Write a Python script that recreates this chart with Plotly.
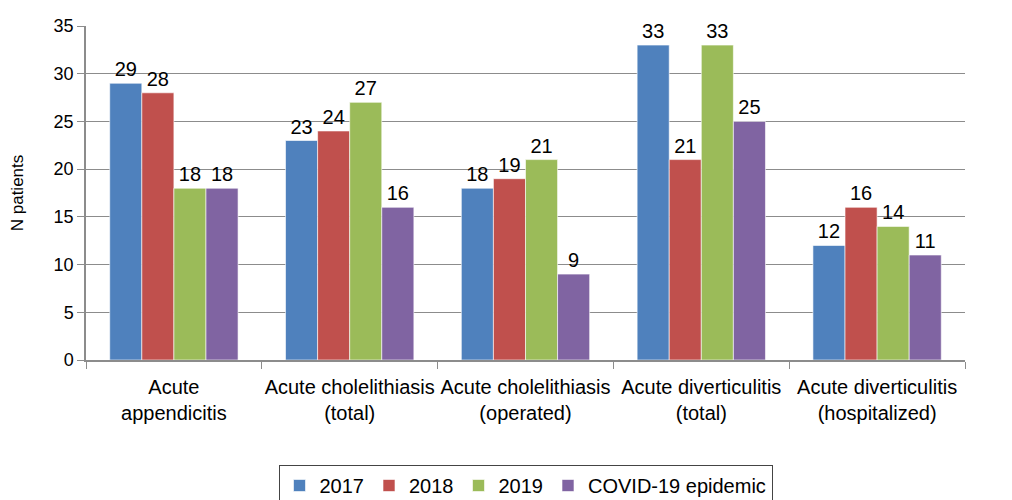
import plotly.graph_objects as go

categories = ["Acute<br>appendicitis", "Acute cholelithiasis<br>(total)", "Acute cholelithiasis<br>(operated)",
              "Acute diverticulitis<br>(total)", "Acute diverticulitis<br>(hospitalized)"]
series_names = ["2017", "2018", "2019", "COVID-19 epidemic"]
v2017 = [29, 23, 18, 33, 12]
v2018 = [28, 24, 19, 21, 16]
v2019 = [18, 27, 21, 33, 14]
vcovid = [18, 16, 9, 25, 11]
colors = ["#4F81BD", "#C0504D", "#9BBB59", "#8064A2"]
y_ticks = [0, 5, 10, 15, 20, 25, 30, 35]

fig = go.Figure()
for name, vals, c in zip(series_names, [v2017, v2018, v2019, vcovid], colors):
    fig.add_trace(go.Bar(
        x=categories, y=vals, name=name,
        marker=dict(color=c, line=dict(color="white", width=0.6)),
        text=[str(v) for v in vals], textposition="outside",
        textfont=dict(size=20, color="black"), cliponaxis=False,
    ))

fig.update_layout(
    width=1012, height=500,
    barmode="group", bargap=0.27, bargroupgap=0,
    plot_bgcolor="white", paper_bgcolor="white",
    font=dict(family="Liberation Sans, Arial, sans-serif", size=17, color="black"),
    margin=dict(l=78, r=55, t=18, b=148),
    uniformtext=dict(minsize=20, mode="show"),
    legend=dict(orientation="h", x=0.5, xanchor="center", yref="container", y=0.086, yanchor="top",
                bordercolor="#444444", borderwidth=1, font=dict(size=20),
                itemwidth=30, tracegroupgap=0),
    xaxis=dict(showline=True, linecolor="#8c8c8c", linewidth=1.5, automargin=False,
               ticks="outside", tickson="boundaries", ticklen=7, tickcolor="#8c8c8c",
               tickangle=0, ticklabelstandoff=8, tickfont=dict(size=20)),
    yaxis=dict(title=dict(text="N patients", font=dict(size=17), standoff=36),
               range=[0, 35], tickvals=y_ticks, showgrid=True, gridcolor="#8c8c8c",
               gridwidth=1.2, showline=True, linecolor="#8c8c8c", linewidth=1.5,
               ticks="outside", ticklen=7, tickcolor="#8c8c8c", zeroline=False,
               automargin=False, tickfont=dict(size=18)),
)

fig.write_html("out.html")
